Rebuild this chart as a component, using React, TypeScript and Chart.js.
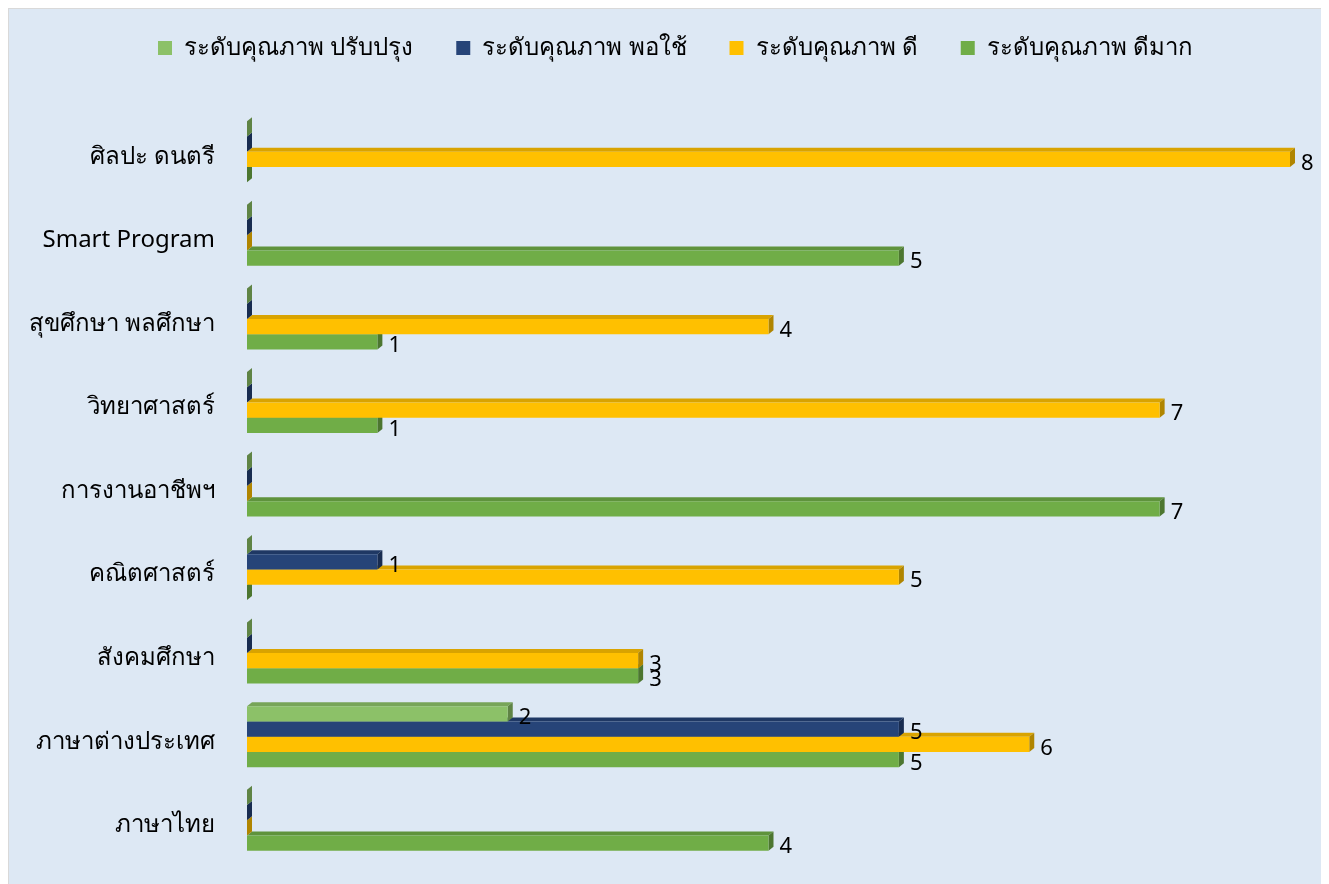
import React, { useEffect, useRef } from "react";
import { Chart, registerables } from "chart.js";

Chart.register(...registerables);

const categories = [
  "ศิลปะ ดนตรี",
  "Smart Program",
  "สุขศึกษา พลศึกษา",
  "วิทยาศาสตร์",
  "การงานอาชีพฯ",
  "คณิตศาสตร์",
  "สังคมศึกษา",
  "ภาษาต่างประเทศ",
  "ภาษาไทย",
];
const seriesNames = [
  "ระดับคุณภาพ ปรับปรุง",
  "ระดับคุณภาพ พอใช้",
  "ระดับคุณภาพ ดี",
  "ระดับคุณภาพ ดีมาก",
];
const improveValues = [0, 0, 0, 0, 0, 0, 0, 2, 0];
const fairValues = [0, 0, 0, 0, 0, 1, 0, 5, 0];
const goodValues = [8, 0, 4, 7, 0, 5, 3, 6, 0];
const veryGoodValues = [0, 5, 1, 1, 7, 0, 3, 5, 4];
const xTicksMax = 8;

const frontColors = ["#8cc168", "#264478", "#ffc000", "#70ad47"];
const topColors = ["#77a558", "#1f3864", "#d9a300", "#5f933c"];
const sideColors = ["#5f8445", "#182c50", "#b08500", "#4c7630"];

const FONT = "'Noto Sans', 'DejaVu Sans', sans-serif";

const threeD = {
  id: "threeD",
  afterLayout(chart: any) {
    const l = chart.legend;
    if (l) {
      l.left += 26;
      l.right += 26;
    }
  },
  beforeDatasetsDraw(chart: any) {
    const ctx = chart.ctx;
    const dx = 5;
    const dy = 4;
    ctx.save();
    for (let i = chart.data.datasets.length - 1; i >= 0; i--) {
      const meta = chart.getDatasetMeta(i);
      meta.data.forEach((bar: any) => {
        const { x, y, base, height } = bar.getProps(["x", "y", "base", "height"], true);
        const top = y - height / 2;
        const bot = y + height / 2;
        const left = Math.min(base, x);
        const right = Math.max(base, x);
        ctx.fillStyle = topColors[i];
        ctx.beginPath();
        ctx.moveTo(left, top);
        ctx.lineTo(left + dx, top - dy);
        ctx.lineTo(right + dx, top - dy);
        ctx.lineTo(right, top);
        ctx.closePath();
        ctx.fill();
        ctx.fillStyle = sideColors[i];
        ctx.beginPath();
        ctx.moveTo(right, top);
        ctx.lineTo(right + dx, top - dy);
        ctx.lineTo(right + dx, bot - dy);
        ctx.lineTo(right, bot);
        ctx.closePath();
        ctx.fill();
      });
    }
    ctx.restore();
  },
  afterDatasetsDraw(chart: any) {
    const ctx = chart.ctx;
    ctx.save();
    ctx.font = `22px ${FONT}`;
    ctx.fillStyle = "#000";
    ctx.textAlign = "left";
    ctx.textBaseline = "middle";
    chart.data.datasets.forEach((ds: any, i: number) => {
      const meta = chart.getDatasetMeta(i);
      meta.data.forEach((bar: any, j: number) => {
        const v = ds.data[j];
        if (v > 0) {
          const { x, y } = bar.getProps(["x", "y"], true);
          ctx.fillText(String(v), x + 11, y + 4);
        }
      });
    });
    ctx.restore();
  },
};

export default function App() {
  const ref = useRef<HTMLCanvasElement>(null);
  useEffect(() => {
    if (!ref.current) return;
    const seriesValues = [improveValues, fairValues, goodValues, veryGoodValues];
    const chart = new Chart(ref.current, {
      type: "bar",
      data: {
        labels: categories,
        datasets: seriesNames.map((name, i) => ({
          label: name,
          data: seriesValues[i],
          backgroundColor: frontColors[i],
          borderWidth: 0,
          categoryPercentage: 0.73,
          barPercentage: 1,
        })),
      },
      options: {
        indexAxis: "y",
        animation: false,
        responsive: false,
        devicePixelRatio: 1,
        layout: { padding: { left: 0, right: 37, top: -16, bottom: 27 } },
        plugins: {
          legend: {
            position: "top",
            labels: {
              boxWidth: 14,
              boxHeight: 14,
              padding: 43,
              color: "#000",
              font: { size: 24, family: FONT },
            },
          },
          tooltip: { enabled: false },
        },
        scales: {
          x: {
            position: "top",
            min: 0,
            max: xTicksMax,
            display: true,
            grid: { display: false, drawTicks: false },
            border: { display: false },
            ticks: { display: false },
            afterFit(s: any) {
              s.height = 40;
            },
          },
          y: {
            grid: {
              display: true,
              drawOnChartArea: false,
              drawTicks: true,
              tickLength: 32,
              color: "rgba(0,0,0,0)",
            },
            border: { display: false },
            ticks: {
              color: "#000",
              font: { size: 24, family: FONT },
              padding: 0,
              labelOffset: 5,
            },
            afterFit(s: any) {
              s.width = 238;
            },
          },
        },
      },
      plugins: [threeD],
    });
    return () => chart.destroy();
  }, []);
  return (
    <div
      style={{
        border: "1px solid #d9d9d9",
        background: "#dde8f4",
        width: 1318,
        height: 880,
        boxSizing: "content-box",
      }}
    >
      <canvas ref={ref} width={1318} height={880} style={{ display: "block" }} />
    </div>
  );
}
